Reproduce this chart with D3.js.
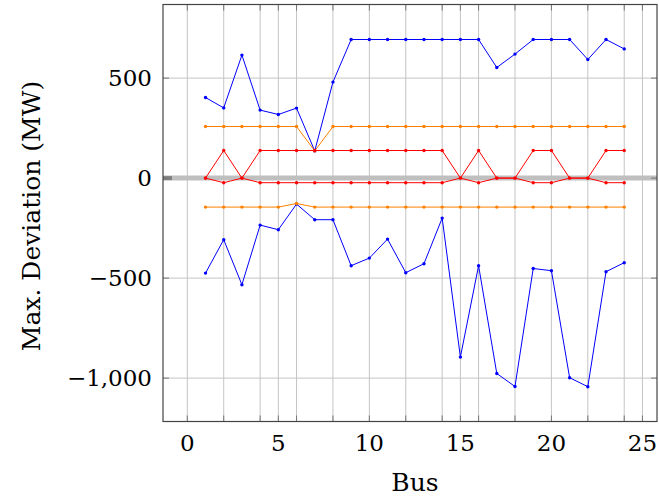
<!DOCTYPE html>
<html>
<head>
<meta charset="utf-8">
<script src="https://cdn.jsdelivr.net/npm/d3@7"></script>
<style>
  body { margin: 0; background: #fff; }
  text { font-family: "DejaVu Serif", serif; fill: #000; }
</style>
</head>
<body>
<svg id="chart" width="659" height="499"></svg>
<script>
// buses 1..24
var buses = d3.range(1, 25);

// max deviation per bus (MW)
var blueUp = [403, 351, 615, 340, 318, 350, 136, 480, 693, 693, 693, 693, 693, 693, 693, 693, 553, 620, 693, 693, 693, 593, 693, 646];
var blueDown = [-475, -308, -533, -235, -258, -130, -208, -208, -438, -400, -305, -473, -428, -200, -895, -438, -977, -1042, -452, -463, -998, -1043, -468, -423];
var orangeUp = [258, 258, 258, 258, 258, 258, 136, 258, 258, 258, 258, 258, 258, 258, 258, 258, 258, 258, 258, 258, 258, 258, 258, 258];
var orangeDown = [-145, -145, -145, -145, -145, -127, -145, -145, -145, -145, -145, -145, -145, -145, -145, -145, -145, -145, -145, -145, -145, -145, -145, -145];
var redUp = [0, 138, 0, 138, 138, 138, 138, 138, 138, 138, 138, 138, 138, 138, 0, 138, 0, 0, 138, 138, 0, 0, 138, 138];
var redDown = [0, -23, 0, -23, -23, -23, -23, -23, -23, -23, -23, -23, -23, -23, 0, -23, 0, 0, -23, -23, 0, 0, -23, -23];

var xTicks = [0, 5, 10, 15, 20, 25];
var xGrid = [0, 2, 4, 5, 6, 8, 10, 12, 14, 15, 16, 18, 20, 22, 24, 25];
var yTicks = [-1000, -500, 0, 500];

var series = [
  {values: blueUp, color: '#0000ff'},
  {values: blueDown, color: '#0000ff'},
  {values: orangeUp, color: '#ff8000'},
  {values: orangeDown, color: '#ff8000'},
  {values: redUp, color: '#ff0000'},
  {values: redDown, color: '#ff0000'}
];

var svg = d3.select('#chart');
var pLeft = 163, pRight = 657, pTop = 4.5, pBottom = 421.5;

var x = d3.scaleLinear().domain([-1.335, 25.8]).range([pLeft, pRight]);
var y = d3.scaleLinear().domain([868, -1217]).range([pTop, pBottom]);

var fmt = function(d) { return d3.format(',')(d).replace('-', '\u2212'); };

// grid
svg.append('g')
  .selectAll('line')
  .data(xGrid)
  .join('line')
    .attr('x1', d => x(d)).attr('x2', d => x(d))
    .attr('y1', pTop).attr('y2', pBottom)
    .attr('stroke', '#c4c4c4').attr('stroke-width', 1);

svg.append('g')
  .selectAll('line')
  .data(yTicks.filter(d => d !== 0))
  .join('line')
    .attr('x1', pLeft).attr('x2', pRight)
    .attr('y1', d => y(d)).attr('y2', d => y(d))
    .attr('stroke', '#c4c4c4').attr('stroke-width', 1);

// thick zero line
svg.append('line')
  .attr('x1', pLeft).attr('x2', pRight)
  .attr('y1', y(0)).attr('y2', y(0))
  .attr('stroke', '#bfbfbf').attr('stroke-width', 5);
svg.append('line')
  .attr('x1', pLeft).attr('x2', pLeft + 9)
  .attr('y1', y(0)).attr('y2', y(0))
  .attr('stroke', '#808080').attr('stroke-width', 4);

// ticks on the frame
var tickLen = 6;
svg.append('g')
  .selectAll('line')
  .data(xGrid)
  .join('line')
    .attr('x1', d => x(d)).attr('x2', d => x(d))
    .attr('y1', pBottom).attr('y2', pBottom - tickLen)
    .attr('stroke', '#777');
svg.append('g')
  .selectAll('line')
  .data(xGrid)
  .join('line')
    .attr('x1', d => x(d)).attr('x2', d => x(d))
    .attr('y1', pTop).attr('y2', pTop + tickLen)
    .attr('stroke', '#777');
svg.append('g')
  .selectAll('line')
  .data(yTicks)
  .join('line')
    .attr('x1', pLeft).attr('x2', pLeft + tickLen)
    .attr('y1', d => y(d)).attr('y2', d => y(d))
    .attr('stroke', '#777');
svg.append('g')
  .selectAll('line')
  .data(yTicks)
  .join('line')
    .attr('x1', pRight).attr('x2', pRight - tickLen)
    .attr('y1', d => y(d)).attr('y2', d => y(d))
    .attr('stroke', '#777');

// series
var line = d3.line()
  .x((d, i) => x(buses[i]))
  .y(d => y(d));

series.forEach(function(s) {
  var g = svg.append('g');
  g.append('path')
    .attr('d', line(s.values))
    .attr('fill', 'none')
    .attr('stroke', s.color)
    .attr('stroke-width', 1);
  g.selectAll('circle')
    .data(s.values)
    .join('circle')
      .attr('cx', (d, i) => x(buses[i]))
      .attr('cy', d => y(d))
      .attr('r', 1.7)
      .attr('fill', s.color);
});

// frame
svg.append('rect')
  .attr('x', pLeft).attr('y', pTop)
  .attr('width', pRight - pLeft).attr('height', pBottom - pTop)
  .attr('fill', 'none')
  .attr('stroke', '#444')
  .attr('stroke-width', 1.2);

// tick labels
svg.append('g')
  .selectAll('text')
  .data(xTicks)
  .join('text')
    .attr('x', d => x(d))
    .attr('y', 451)
    .attr('text-anchor', 'middle')
    .style('font-size', '23px')
    .text(d => d);

svg.append('g')
  .selectAll('text')
  .data(yTicks)
  .join('text')
    .attr('x', 152)
    .attr('y', d => y(d) + 8)
    .attr('text-anchor', 'end')
    .style('font-size', '23px')
    .text(fmt);

// axis titles
svg.append('text')
  .attr('x', 415)
  .attr('y', 491)
  .attr('text-anchor', 'middle')
  .style('font-size', '25px')
  .text('Bus');

svg.append('text')
  .attr('transform', 'translate(40,216) rotate(-90)')
  .attr('text-anchor', 'middle')
  .style('font-size', '25px')
  .text('Max. Deviation (MW)');
</script>
</body>
</html>
